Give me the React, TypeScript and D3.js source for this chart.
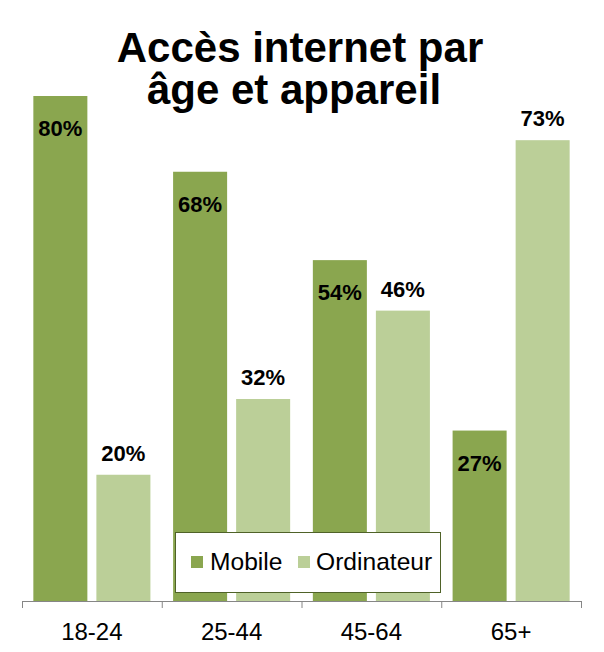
import React from "react";
import * as d3 from "d3";

const categories = ["18-24", "25-44", "45-64", "65+"];
const seriesNames = ["Mobile", "Ordinateur"];
const mobileValues = [80, 68, 54, 27];
const ordinateurValues = [20, 32, 46, 73];
const titleLines = ["Accès internet par", "âge et appareil"];

const colors: Record<string, string> = { Mobile: "#8aa64f", Ordinateur: "#bbcf98" };
const FONT = "'Liberation Sans', Arial, sans-serif";

export default function App() {
  const W = 604, H = 652;
  const baseY = 601;
  const x0 = d3.scaleBand<string>().domain(categories).range([22, 581]).paddingInner(0).paddingOuter(0);
  const x1 = d3.scaleBand<string>().domain(seriesNames).range([0, x0.bandwidth()]).paddingInner(0.143).paddingOuter(0.18);
  const y = d3.scaleLinear().domain([0, 80]).range([baseY, 96]);
  const data = categories.map((c, i) => ({ cat: c, Mobile: mobileValues[i], Ordinateur: ordinateurValues[i] }));
  const ticks = [...categories.map((c) => x0(c)!), 581];

  return (
    <svg width={W} height={H} style={{ position: "absolute", left: 0, top: 0, background: "#fff" }} fontFamily={FONT}>
      <rect width={W} height={H} fill="#fff" />
      <text x={300} y={62} textAnchor="middle" fontSize={42} fontWeight="bold" fill="#000">{titleLines[0]}</text>
      <text x={294} y={104} textAnchor="middle" fontSize={42} fontWeight="bold" fill="#000">{titleLines[1]}</text>
      {data.map((d) => (
        <g key={d.cat} transform={`translate(${x0(d.cat)},0)`}>
          {seriesNames.map((s) => {
            const v = (d as any)[s] as number;
            const top = y(v);
            const bx = x1(s)!;
            const bw = x1.bandwidth();
            const ly = s === "Mobile" ? top + 40 : top - 14;
            return (
              <g key={s}>
                <rect x={bx} y={top} width={bw} height={baseY - top} fill={colors[s]} />
                <text x={bx + bw / 2} y={ly} textAnchor="middle" fontSize={22} fontWeight="bold" fill="#000">{v}%</text>
              </g>
            );
          })}
        </g>
      ))}
      <line x1={22} x2={581} y1={baseY + 0.5} y2={baseY + 0.5} stroke="#868686" strokeWidth={1} />
      {ticks.map((t, i) => (
        <line key={i} x1={t + 0.5} x2={t + 0.5} y1={baseY} y2={baseY + 7} stroke="#868686" strokeWidth={1} />
      ))}
      {categories.map((c) => (
        <text key={c} x={x0(c)! + x0.bandwidth() / 2} y={640} textAnchor="middle" fontSize={24} fill="#000">{c}</text>
      ))}
      <g>
        <rect x={175.5} y={532.5} width={265} height={60} fill="#fff" stroke="#4f6228" strokeWidth={1} />
        <rect x={191} y={556} width={12} height={12} fill={colors.Mobile} />
        <text x={210} y={570} fontSize={24.6} fill="#000">{seriesNames[0]}</text>
        <rect x={298} y={556} width={12} height={12} fill={colors.Ordinateur} />
        <text x={316} y={570} fontSize={24.6} fill="#000">{seriesNames[1]}</text>
      </g>
    </svg>
  );
}
